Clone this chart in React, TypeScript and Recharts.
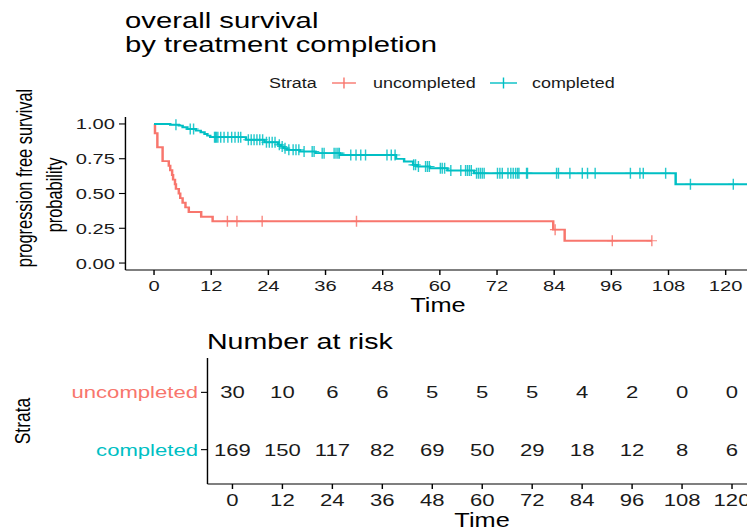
import React from 'react';
import { ComposedChart, Line, Scatter, XAxis, YAxis } from 'recharts';

const FONT = '"Liberation Sans", Arial, Helvetica, sans-serif';
const RED = '#F8766D';
const TEAL = '#00BFC4';
const INK = '#1a1a1a';
// the whole figure is laid out narrow and widened horizontally
const SX = 1.3;

const timeTicks = [0, 12, 24, 36, 48, 60, 72, 84, 96, 108, 120];
const survTicks = [0, 0.25, 0.5, 0.75, 1];

// Kaplan-Meier steps: uncompleted
const uncompletedTimes = [0, 0.2, 0.7, 1.8, 3.1, 3.4, 3.8, 4.0, 4.4, 4.6, 5.2, 5.5, 6.0, 6.6, 7.3, 9.9, 12.3, 83.8, 86.2];
const uncompletedSurv = [1, 0.933, 0.833, 0.733, 0.7, 0.667, 0.633, 0.6, 0.567, 0.533, 0.5, 0.467, 0.433, 0.4, 0.367, 0.333, 0.3, 0.24, 0.16];
const uncompletedLast = 104.5;
const uncompletedCensored = [15.4, 17.4, 22.7, 42.5, 84.2, 96.2, 104.5];

// Kaplan-Meier steps: completed
const completedTimes = [0, 3.4, 5.2, 6.0, 7.0, 8.8, 9.8, 10.6, 11.2, 11.8, 19.3, 23.2, 26.0, 26.6, 27.2, 27.9, 30.6, 33.9, 39.0, 50.8, 52.5, 54.4, 55.3, 57.9, 61.6, 67.2, 109.5];
const completedSurv = [1, 0.994, 0.988, 0.976, 0.964, 0.952, 0.94, 0.928, 0.916, 0.905, 0.886, 0.868, 0.85, 0.838, 0.826, 0.814, 0.802, 0.79, 0.777, 0.749, 0.73, 0.706, 0.694, 0.682, 0.665, 0.646, 0.567];
const completedLast = 126;
const completedCensored = [
  4.6, 7.6, 8.3, 12.7, 12.9, 13.1, 13.4, 14.0, 14.7, 15.5, 16.3, 17.0, 17.7, 18.2,
  19.8, 20.4, 21.0, 21.6, 22.2, 22.8, 23.6, 24.2, 24.8, 25.4, 26.3, 26.9, 27.5, 28.3,
  29.2, 29.8, 30.4, 31.5, 33.2, 33.6, 35.3, 35.7, 37.8, 38.2, 38.6, 38.9, 41.3, 42.4,
  43.4, 44.4, 48.9, 49.8, 50.6, 54.5, 54.9, 55.5, 57.0, 57.4, 57.8, 60.1, 60.5, 61.0,
  62.3, 64.4, 65.4, 65.8, 66.2, 66.6, 67.7, 68.1, 68.5, 68.9, 69.3, 72.1, 72.6, 73.1,
  74.3, 74.9, 75.4, 75.9, 76.3, 76.6, 78.2, 78.4, 84.5, 84.9, 87.3, 89.9, 91.0, 92.6,
  100.0, 102.0, 102.7, 107.4, 112.6, 121.6,
];

// number at risk table
const riskTimes = [0, 12, 24, 36, 48, 60, 72, 84, 96, 108, 120];
const riskUncompleted = [30, 10, 6, 6, 5, 5, 5, 4, 2, 0, 0];
const riskCompleted = [169, 150, 117, 82, 69, 50, 29, 18, 12, 8, 6];
const strataNames = ['uncompleted', 'completed'];

type Pt = { t: number; s: number };

function stepCurve(times: number[], surv: number[], last: number): Pt[] {
  const pts = times.map((t, i) => ({ t, s: surv[i] }));
  pts.push({ t: last, s: surv[surv.length - 1] });
  return pts;
}

function survAt(times: number[], surv: number[], t: number): number {
  let s = surv[0];
  for (let i = 0; i < times.length; i++) {
    if (times[i] <= t) s = surv[i];
  }
  return s;
}

const uncompletedLine = stepCurve(uncompletedTimes, uncompletedSurv, uncompletedLast);
const completedLine = stepCurve(completedTimes, completedSurv, completedLast);
const uncompletedMarks = uncompletedCensored.map((t) => ({ t, s: survAt(uncompletedTimes, uncompletedSurv, t) }));
const completedMarks = completedCensored.map((t) => ({ t, s: survAt(completedTimes, completedSurv, t) }));

const riskRows = [
  ...riskTimes.map((t, i) => ({ t, row: 2, n: riskUncompleted[i] })),
  ...riskTimes.map((t, i) => ({ t, row: 1, n: riskCompleted[i] })),
];

const CensorMark = (color: string) => (props: any) => {
  const { cx, cy } = props;
  if (cx == null || cy == null) return <g />;
  return (
    <path
      d={`M${cx - 4},${cy}h8M${cx},${cy - 5.5}v11`}
      stroke={color}
      strokeWidth={1.1}
      strokeOpacity={0.85}
      fill="none"
    />
  );
};

const RiskNumber = (props: any) => {
  const { cx, cy, payload } = props;
  if (cx == null || cy == null) return <g />;
  return (
    <text x={cx} y={cy} dy="0.36em" textAnchor="middle" fontSize={17} fontFamily={FONT} fill={INK}>
      {payload.n}
    </text>
  );
};

const RiskYTick = (props: any) => {
  const { x, y, payload } = props;
  const name = payload.value === 2 ? strataNames[0] : strataNames[1];
  const color = payload.value === 2 ? RED : TEAL;
  return (
    <text x={x} y={y} dy="0.36em" textAnchor="end" fontSize={17} fontFamily={FONT} fill={color}>
      {name}
    </text>
  );
};

const axisStyle = { stroke: '#000', strokeWidth: 1.1 };

function SurvivalPlot() {
  return (
    <div style={{ position: 'absolute', left: 0, top: 0 }}>
      <ComposedChart width={600} height={330} margin={{ top: 117, right: 19.8, bottom: 30, left: 0 }}>
        <XAxis
          type="number"
          dataKey="t"
          domain={[-6, 126]}
          ticks={timeTicks}
          allowDataOverflow
          height={30}
          tickSize={5}
          tickMargin={5}
          axisLine={axisStyle}
          tickLine={axisStyle}
          tick={{ fill: INK, fontSize: 15.5, fontFamily: FONT }}
        />
        <YAxis
          type="number"
          dataKey="s"
          domain={[-0.05, 1.05]}
          ticks={survTicks}
          allowDataOverflow
          width={96.5}
          tickSize={5}
          tickMargin={3}
          tickFormatter={(v: number) => v.toFixed(2)}
          axisLine={axisStyle}
          tickLine={axisStyle}
          tick={{ fill: INK, fontSize: 15.5, fontFamily: FONT }}
        />
        <Line data={uncompletedLine} dataKey="s" type="stepAfter" stroke={RED} strokeWidth={1.9} dot={false} activeDot={false} isAnimationActive={false} />
        <Line data={completedLine} dataKey="s" type="stepAfter" stroke={TEAL} strokeWidth={1.9} dot={false} activeDot={false} isAnimationActive={false} />
        <Scatter data={uncompletedMarks} dataKey="s" shape={CensorMark(RED)} isAnimationActive={false} />
        <Scatter data={completedMarks} dataKey="s" shape={CensorMark(TEAL)} isAnimationActive={false} />
      </ComposedChart>
    </div>
  );
}

function RiskTable() {
  return (
    <div style={{ position: 'absolute', left: 0, top: 320 }}>
      <ComposedChart width={600} height={210} margin={{ top: 38, right: 17.7, bottom: 0, left: 0 }}>
        <XAxis
          type="number"
          dataKey="t"
          domain={[-6, 126]}
          ticks={timeTicks}
          allowDataOverflow
          height={46}
          tickSize={5}
          tickMargin={5}
          axisLine={axisStyle}
          tickLine={axisStyle}
          tick={{ fill: INK, fontSize: 17, fontFamily: FONT }}
        />
        <YAxis
          type="number"
          dataKey="row"
          domain={[0.4, 2.6]}
          ticks={[1, 2]}
          width={159.6}
          tickSize={5}
          tickMargin={2.3}
          axisLine={axisStyle}
          tickLine={axisStyle}
          tick={<RiskYTick />}
        />
        <Scatter data={riskRows} dataKey="row" shape={RiskNumber} isAnimationActive={false} />
      </ComposedChart>
    </div>
  );
}

function Annotations() {
  const legendY = 88;
  return (
    <svg width={600} height={530} style={{ position: 'absolute', left: 0, top: 0, pointerEvents: 'none' }}>
      <g fontFamily={FONT}>
        <text x={96.2} y={28.5} fontSize={22.5} fill="#000">overall survival</text>
        <text x={96.2} y={52} fontSize={22.5} fill="#000">by treatment completion</text>

        <text x={206.9} y={legendY} fontSize={13.8} fill={INK}>Strata</text>
        <line x1={255.4} x2={273.8} y1={legendY - 5} y2={legendY - 5} stroke={RED} strokeWidth={1.4} />
        <line x1={264.6} x2={264.6} y1={legendY - 10.5} y2={legendY + 0.5} stroke={RED} strokeWidth={1.1} />
        <text x={286.9} y={legendY} fontSize={13.8} fill={INK}>uncompleted</text>
        <line x1={376.9} x2={397.7} y1={legendY - 5} y2={legendY - 5} stroke={TEAL} strokeWidth={1.4} />
        <line x1={387.3} x2={387.3} y1={legendY - 10.5} y2={legendY + 0.5} stroke={TEAL} strokeWidth={1.1} />
        <text x={409.2} y={legendY} fontSize={13.8} fill={INK}>completed</text>

        <text transform="translate(19.2,178) rotate(-90)" textAnchor="middle" dominantBaseline="central" fontSize={16.4} fill="#000">
          progression free survival
        </text>
        <text transform="translate(42.3,195) rotate(-90)" textAnchor="middle" dominantBaseline="central" fontSize={16.4} fill="#000">
          probability
        </text>
        <text x={336.9} y={312} textAnchor="middle" fontSize={19.5} fill="#000">Time</text>

        <text x={159.2} y={349} fontSize={22} fill="#000">Number at risk</text>
        <text transform="translate(16.9,421) rotate(-90)" textAnchor="middle" dominantBaseline="central" fontSize={17.5} fill="#000">
          Strata
        </text>
        <text x={370.8} y={527} textAnchor="middle" fontSize={19.5} fill="#000">Time</text>
      </g>
    </svg>
  );
}

export default function App() {
  return (
    <div style={{ position: 'absolute', left: 0, top: 0, width: 747, height: 530, overflow: 'hidden', background: '#fff' }}>
      <div
        style={{
          position: 'absolute',
          left: 0,
          top: 0,
          width: 747 / SX,
          height: 530,
          transform: `scaleX(${SX})`,
          transformOrigin: '0 0',
        }}
      >
        <SurvivalPlot />
        <RiskTable />
        <Annotations />
      </div>
    </div>
  );
}
